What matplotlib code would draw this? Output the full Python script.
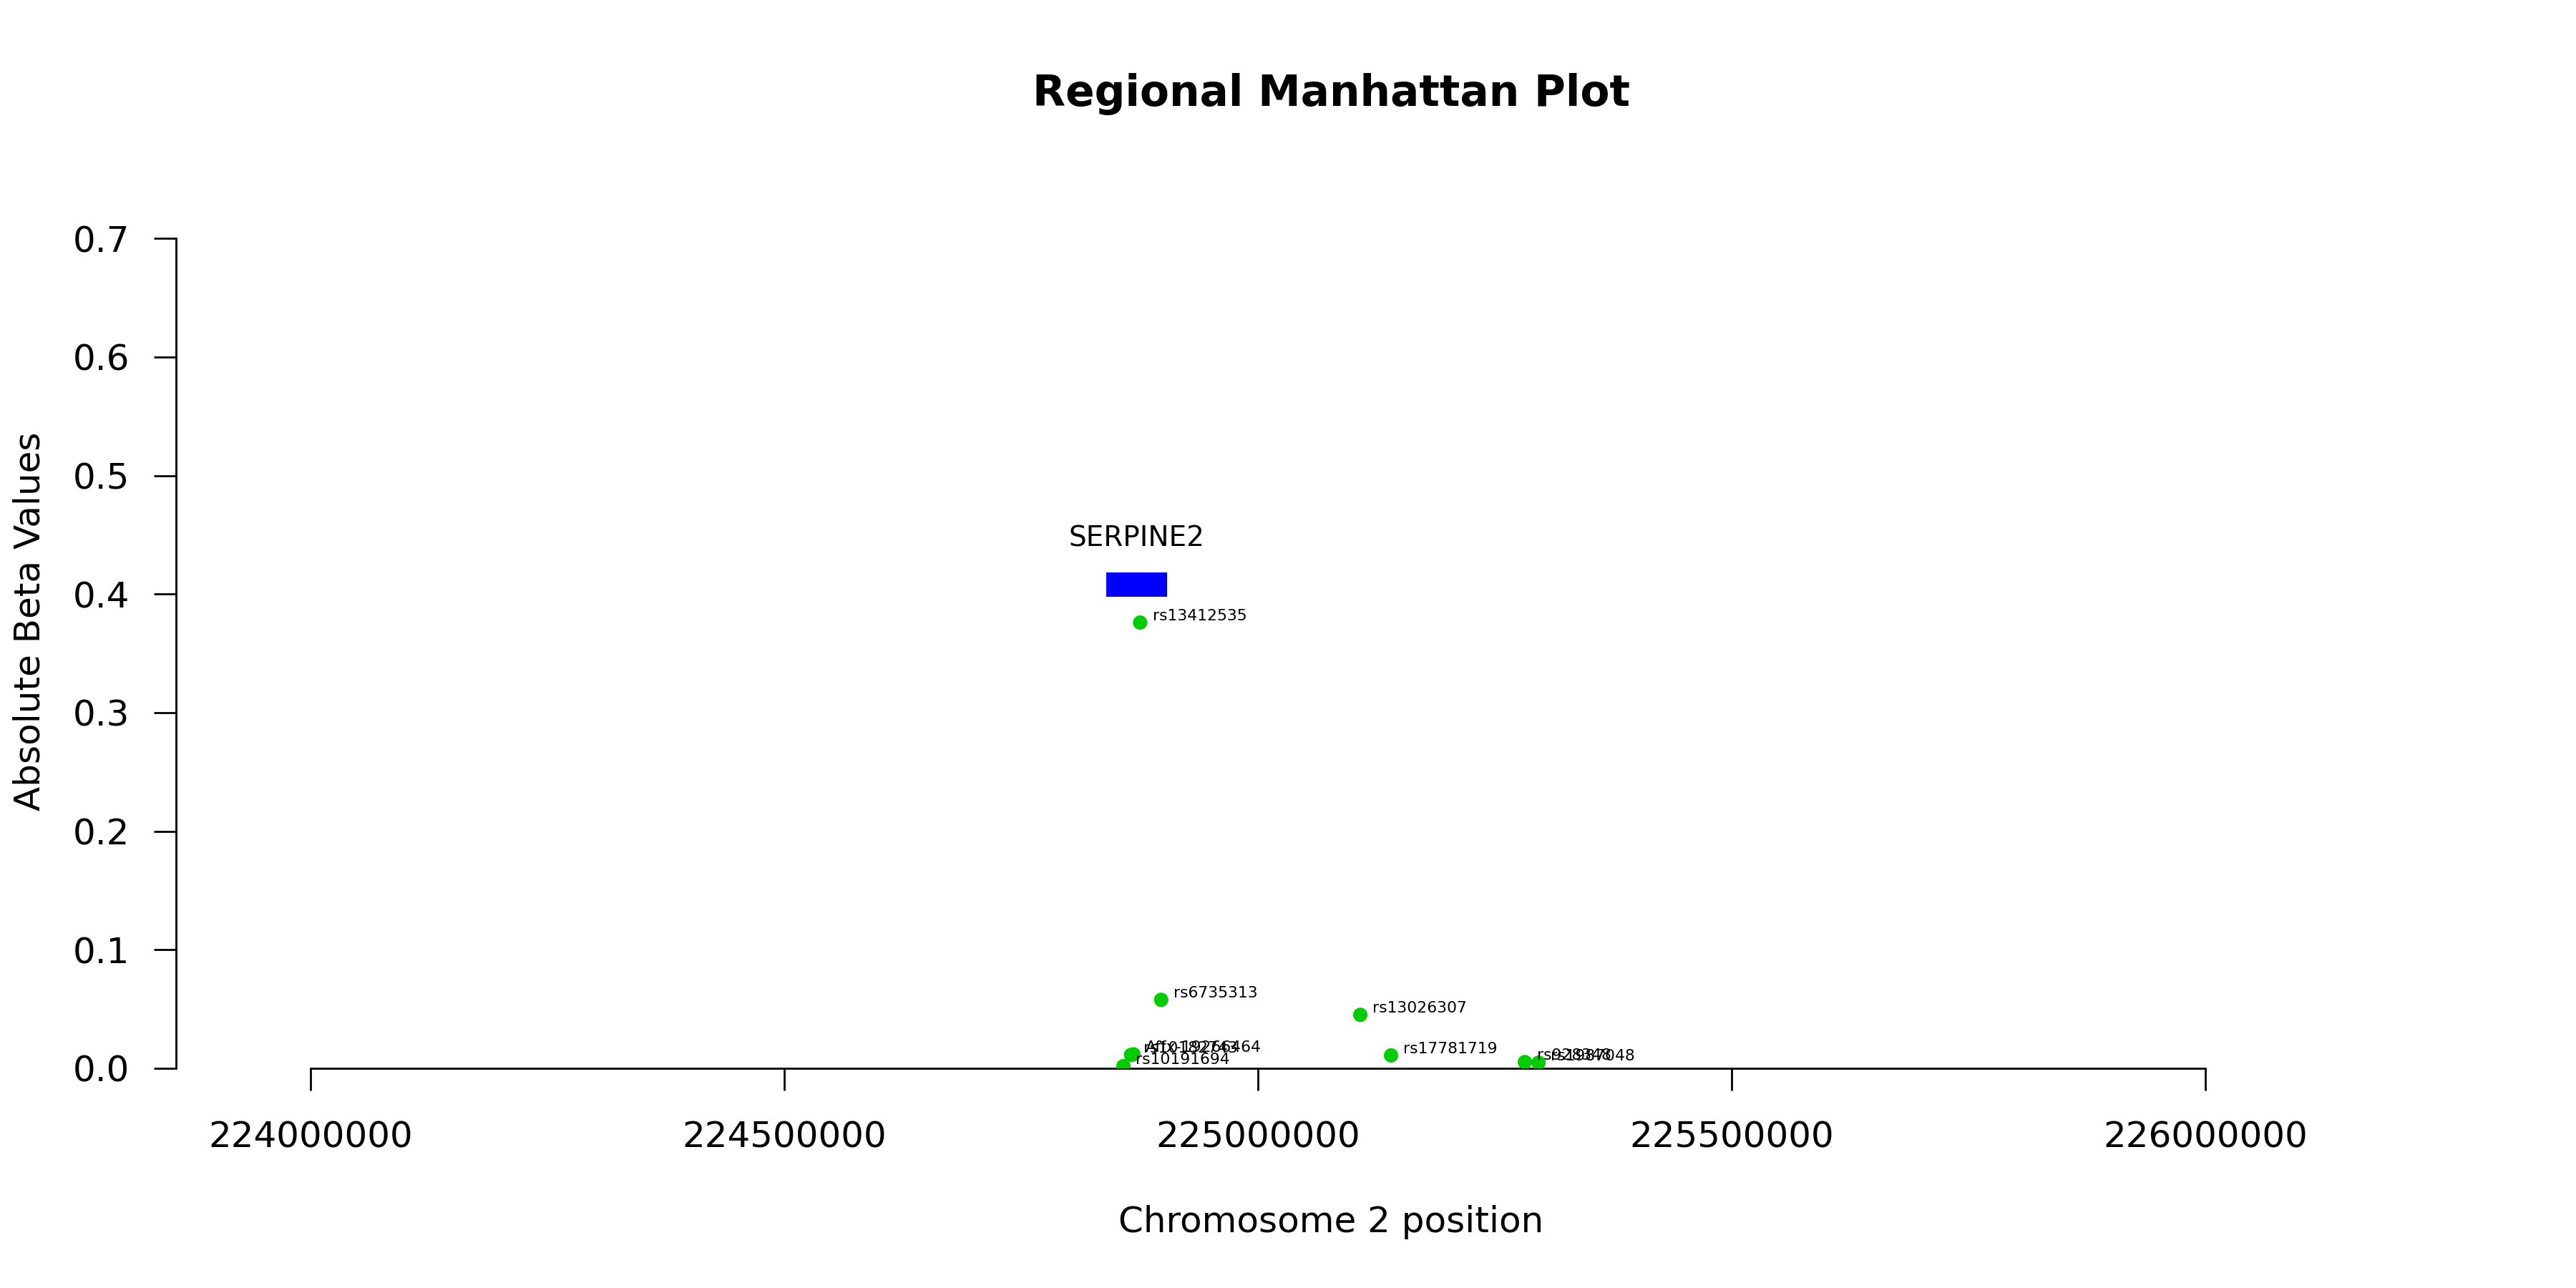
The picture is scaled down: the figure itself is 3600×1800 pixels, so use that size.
import matplotlib
matplotlib.use("Agg")
import matplotlib.pyplot as plt
from matplotlib.patches import Rectangle

# SNPs on chromosome 2 near SERPINE2
snp_ids = ["rs13412535", "rs6735313", "rs10182743", "Affx-19266464", "rs10191694",
           "rs13026307", "rs17781719", "rs928348", "rs1987048"]
snp_pos = [224875600, 224897800, 224866000, 224868500, 224858000,
           225108000, 225140500, 225281700, 225296100]
snp_beta = [0.376, 0.0578, 0.0113, 0.0118, 0.0018,
            0.0451, 0.0109, 0.0053, 0.0048]

gene_names = ["SERPINE2"]
gene_start = [224840068]
gene_end = [224904036]
gene_low = [0.398]
gene_high = [0.418]

x_ticks = [224000000, 224500000, 225000000, 225500000, 226000000]
y_ticks = [0.0, 0.1, 0.2, 0.3, 0.4, 0.5, 0.6, 0.7]

W, H = 3600, 1800
fig = plt.figure(figsize=(18, 9), dpi=200)
ax = fig.add_axes([246 / W, 1 - 1493 / H, (3474 - 246) / W, (1493 - 243) / H])

ax.scatter(snp_pos, snp_beta, s=52, color="#00CD00", edgecolors="none", zorder=3)
for name, x, y in zip(snp_ids, snp_pos, snp_beta):
    ax.annotate(name, (x, y), xytext=(6.2, 1.1), textcoords="offset points",
                fontsize=7.9, ha="left", va="baseline")

for name, s, e, lo, hi in zip(gene_names, gene_start, gene_end, gene_low, gene_high):
    ax.add_patch(Rectangle((s, lo), e - s, hi - lo, facecolor="#0000FF", edgecolor="none"))
    ax.text((s + e) / 2, hi + 0.0225, name, fontsize=14, ha="center", va="baseline")

ax.set_xlim(223858000, 226296000)
ax.set_ylim(0, 0.7545)

ax.set_xticks(x_ticks)
ax.set_xticklabels([str(t) for t in x_ticks])
ax.set_yticks(y_ticks)
ax.set_yticklabels(["%.1f" % t for t in y_ticks])

for side in ["top", "right"]:
    ax.spines[side].set_visible(False)
ax.spines["left"].set_bounds(0, 0.7)
ax.spines["bottom"].set_bounds(x_ticks[0], x_ticks[-1])
for side in ["left", "bottom"]:
    ax.spines[side].set_linewidth(1.0)

ax.tick_params(axis="both", length=11.2, width=1.0, labelsize=18)
ax.tick_params(axis="x", pad=14.8)
ax.tick_params(axis="y", pad=12)

fig.text(1860 / W, 1 - 148 / H, "Regional Manhattan Plot", fontsize=21.5,
         fontweight="bold", ha="center", va="baseline")
fig.text(1860 / W, 1 - 1722 / H, "Chromosome 2 position", fontsize=18,
         ha="center", va="baseline")
fig.text(56 / W, 1 - 868 / H, "Absolute Beta Values", fontsize=18, rotation=90,
         rotation_mode="anchor", ha="center", va="baseline")

fig.savefig("out.png", dpi=200)
